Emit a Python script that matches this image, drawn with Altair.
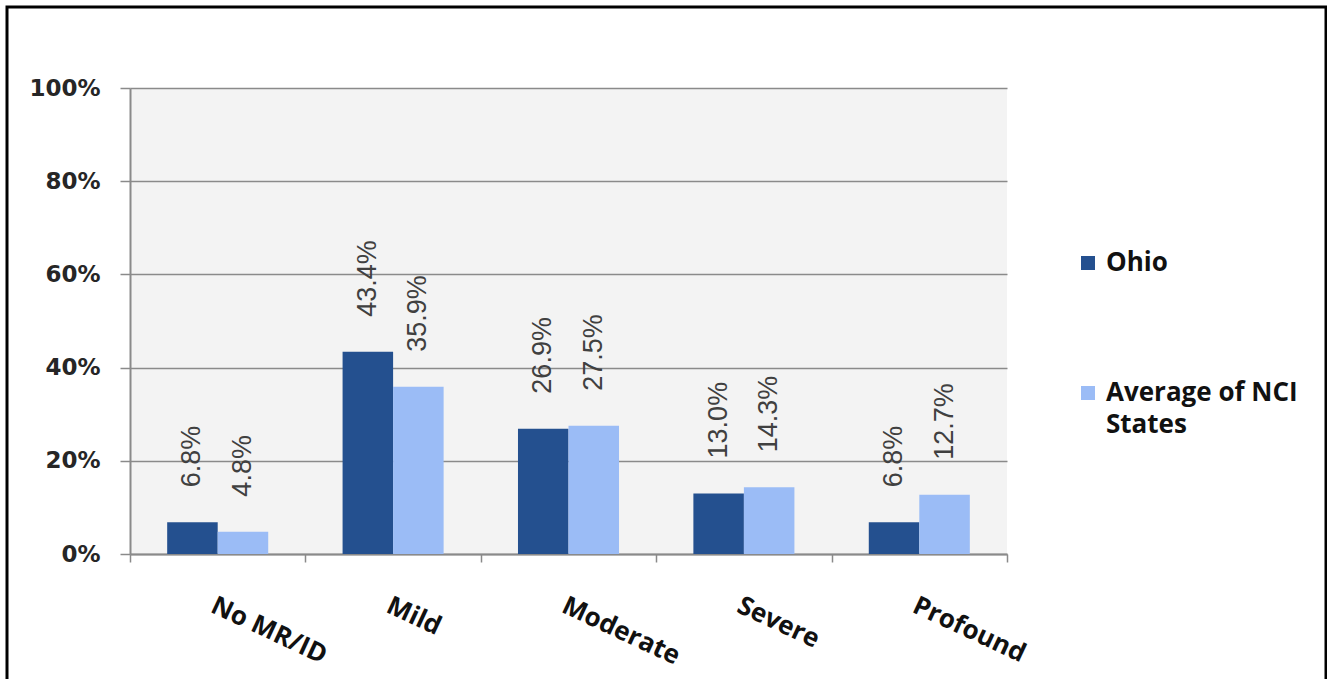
import altair as alt
import pandas as pd

# Level of intellectual disability: Ohio vs. average of NCI states (percent of respondents)
categories = ["No MR/ID", "Mild", "Moderate", "Severe", "Profound"]
series = ["Ohio", "Average of NCI States"]
ohio_pct = [6.8, 43.4, 26.9, 13.0, 6.8]
nci_pct = [4.8, 35.9, 27.5, 14.3, 12.7]
y_ticks = [0, 0.2, 0.4, 0.6, 0.8, 1.0]
colors = ["#24508f", "#9bbcf6"]

rows = []
for cat, o, n in zip(categories, ohio_pct, nci_pct):
    rows.append({"level": cat, "group": series[0], "share": o / 100})
    rows.append({"level": cat, "group": series[1], "share": n / 100})
df = pd.DataFrame(rows)

x_scale = alt.Scale(paddingInner=0, paddingOuter=0)
off_scale = alt.Scale(paddingInner=0, paddingOuter=0.736)

x_enc = alt.X(
    "level:N",
    sort=categories,
    title=None,
    scale=x_scale,
    axis=alt.Axis(
        labelAngle=25,
        labelAlign="left",
        labelBaseline="top",
        labelPadding=30,
        labelFont="Open Sans",
        labelFontWeight="bold",
        labelFontSize=26,
        labelColor="#111111",
        tickBand="extent",
        tickSize=8,
        tickColor="#8a8a8a",
        tickWidth=1.5,
        domainColor="#8a8a8a",
        domainWidth=2,
        grid=False,
    ),
)
x_off = alt.XOffset("group:N", sort=series, scale=off_scale)
y_enc = alt.Y(
    "share:Q",
    title=None,
    scale=alt.Scale(domain=[0, 1], nice=False),
    axis=alt.Axis(
        values=y_ticks,
        format=".0%",
        labelFont="DejaVu Sans",
        labelFontWeight="bold",
        labelFontSize=23,
        labelColor="#262626",
        labelPadding=20,
        tickSize=10,
        tickColor="#8a8a8a",
        tickWidth=1.5,
        domainColor="#8a8a8a",
        domainWidth=2,
        gridColor="#8a8a8a",
        gridWidth=1.5,
    ),
)
color_enc = alt.Color(
    "group:N",
    sort=series,
    scale=alt.Scale(domain=series, range=colors),
    legend=alt.Legend(
        title=None,
        orient="none",
        legendX=945,
        legendY=162,
        symbolType="square",
        symbolSize=196,
        symbolStrokeWidth=0,
        labelFont="Open Sans",
        labelFontWeight="bold",
        labelFontSize=26,
        labelColor="#111111",
        labelLimit=400,
        labelOffset=5,
        rowPadding=104,
        labelExpr="datum.label == 'Average of NCI States' ? ['Average of NCI', 'States'] : datum.label",
    ),
)

bars = alt.Chart(df).mark_bar().encode(x=x_enc, xOffset=x_off, y=y_enc, color=color_enc)

labels = alt.Chart(df).mark_text(
    angle=270,
    align="left",
    baseline="middle",
    dx=35,
    font="Liberation Sans",
    fontSize=27,
    color="#404040",
).encode(
    x=alt.X("level:N", sort=categories, scale=x_scale),
    xOffset=alt.XOffset("group:N", sort=series, scale=off_scale),
    y="share:Q",
    text=alt.Text("share:Q", format=".1%"),
)

# outer frame around the whole figure
frame = alt.Chart(pd.DataFrame({"k": [0]})).mark_rect(
    fill="white", fillOpacity=0, stroke="black", strokeWidth=3, clip=False
).encode(
    x=alt.value(-123), x2=alt.value(1196), y=alt.value(-81), y2=alt.value(640)
)

chart = (
    alt.layer(bars, labels, frame)
    .properties(
        width=877,
        height=466,
        autosize=alt.AutoSizeParams(type="none"),
        padding={"left": 130, "top": 88, "right": 320, "bottom": 125},
        background="white",
    )
    .configure(style={"guide-label": {"lineHeight": 32}})
    .configure_view(fill="#f3f3f3", stroke=None)
)

chart.save("out.html", embed_options={"renderer": "svg", "actions": False})
